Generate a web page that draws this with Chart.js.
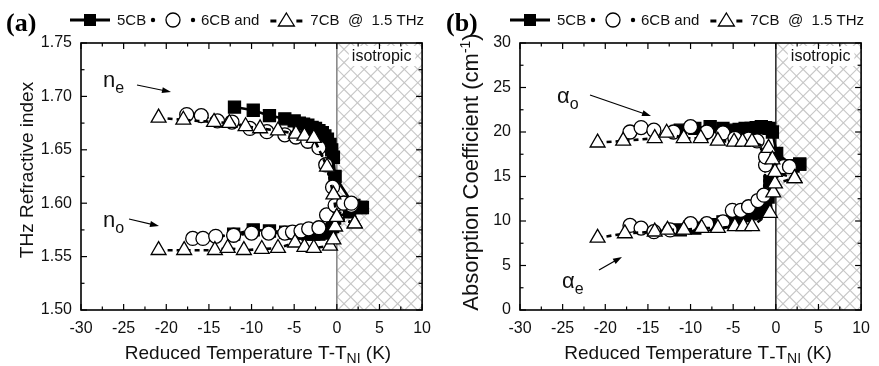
<!DOCTYPE html>
<html>
<head>
<meta charset="utf-8">
<title>5CB, 6CB and 7CB at 1.5 THz</title>
<script src="https://cdn.jsdelivr.net/npm/chart.js@4.4.1/dist/chart.umd.min.js"></script>
<style>
  html, body { margin: 0; padding: 0; background: #fff; }
  #wrap { position: relative; width: 879px; height: 366px; overflow: hidden; }
  canvas { position: absolute; top: 0; }
  #panelA { left: 0; }
  #panelB { left: 440px; }
</style>
</head>
<body>
<div id="wrap">
  <canvas id="panelA" width="440" height="366"></canvas>
  <canvas id="panelB" width="439" height="366"></canvas>
</div>
<script>
// ---------- axis ticks ----------
const tempTicks  = [-30, -25, -20, -15, -10, -5, 0, 5, 10];
const indexTicks = [1.50, 1.55, 1.60, 1.65, 1.70, 1.75];
const alphaTicks = [0, 5, 10, 15, 20, 25, 30];

// ---------- (a) refractive index vs reduced temperature ----------
// 5CB
const t5_ne = [-12.0, -9.8, -7.9, -6.1, -5.0, -4.4, -3.9, -3.4, -2.9, -2.5, -2.1, -1.7, -1.4, -1.1, -0.8, -0.6, -0.4, -0.2, 2.0, 3.0];
const n5_ne = [1.690, 1.687, 1.682, 1.679, 1.677, 1.675, 1.674, 1.673, 1.671, 1.670, 1.668, 1.666, 1.663, 1.660, 1.655, 1.650, 1.643, 1.625, 1.598, 1.596];
const t5_no = [-12.1, -9.8, -7.9, -6.0, -5.0, -4.2, -3.4, -2.7, -2.1, -1.6, -1.2, -0.8, -0.5, -0.25, 1.5, 2.8];
const n5_no = [1.571, 1.575, 1.574, 1.573, 1.572, 1.572, 1.571, 1.571, 1.571, 1.572, 1.573, 1.575, 1.578, 1.586, 1.592, 1.596];
// 6CB
const t6_ne = [-17.6, -15.9, -14.0, -12.3, -10.2, -8.2, -6.1, -4.8, -3.4, -2.1, -1.3, -0.5, 0.8, 1.7];
const n6_ne = [1.683, 1.682, 1.677, 1.676, 1.670, 1.667, 1.664, 1.662, 1.658, 1.652, 1.636, 1.615, 1.600, 1.600];
const t6_no = [-16.9, -15.7, -14.2, -12.1, -10.0, -8.0, -6.1, -5.2, -4.2, -3.3, -2.1, -1.2, -0.2, 0.8, 1.7];
const n6_no = [1.567, 1.567, 1.569, 1.570, 1.572, 1.572, 1.572, 1.573, 1.574, 1.576, 1.577, 1.589, 1.598, 1.600, 1.598];
// 7CB
const t7_ne = [-20.9, -18.0, -14.4, -12.6, -10.7, -9.0, -6.9, -4.8, -3.8, -2.7, -1.15, -0.4, 0.0, 2.1];
const n7_ne = [1.680, 1.678, 1.676, 1.675, 1.672, 1.670, 1.668, 1.665, 1.663, 1.661, 1.634, 1.608, 1.587, 1.581];
const t7_no = [-20.9, -17.9, -14.3, -12.8, -10.9, -8.8, -6.9, -4.9, -3.8, -2.7, -0.8, -0.4, -0.2, 0.0, 2.1];
const n7_no = [1.556, 1.556, 1.556, 1.558, 1.556, 1.557, 1.558, 1.563, 1.559, 1.558, 1.560, 1.566, 1.578, 1.587, 1.581];

// ---------- (b) absorption coefficient (cm^-1) vs reduced temperature ----------
// 5CB
const t5_ao = [-11.2, -9.5, -7.7, -6.2, -5.0, -4.3, -3.6, -2.9, -2.3, -1.7, -1.2, -0.8, -0.4, 0.1, 2.0, 2.8];
const a5_o  = [20.2, 20.4, 20.6, 20.4, 20.2, 20.3, 20.4, 20.4, 20.5, 20.6, 20.5, 20.4, 20.0, 17.6, 16.2, 16.4];
const t5_ae = [-11.2, -9.5, -7.7, -6.2, -5.0, -4.3, -3.6, -2.9, -2.3, -1.7, -1.2, -0.9, -0.7, 2.0, 2.8];
const a5_e  = [9.0, 9.2, 9.6, 9.9, 10.2, 10.4, 10.6, 10.8, 10.9, 11.1, 11.4, 12.7, 14.4, 16.2, 16.4];
// 6CB
const t6_ao = [-17.1, -15.8, -14.3, -12.0, -10.0, -8.1, -6.2, -4.8, -3.2, -2.2, -1.2, 0.9, 1.6];
const a6_o  = [20.0, 20.5, 20.2, 20.0, 20.6, 20.0, 19.9, 19.3, 19.2, 19.0, 17.2, 16.1, 16.1];
const t6_ae = [-17.1, -15.8, -14.3, -12.4, -10.0, -8.1, -6.2, -5.1, -4.1, -3.2, -2.1, -1.4, -1.2, 0.9, 1.6];
const a6_e  = [9.5, 9.2, 8.8, 9.0, 9.7, 9.7, 9.9, 11.2, 11.2, 11.6, 12.3, 12.9, 16.3, 16.1, 16.1];
// 7CB
const t7_ao = [-20.9, -17.9, -14.2, -12.8, -10.8, -8.8, -6.8, -4.9, -3.9, -2.8, -0.85, -0.4, -0.1, 2.2];
const a7_o  = [18.8, 19.0, 19.3, 19.9, 19.3, 19.3, 19.0, 18.9, 18.9, 18.9, 18.2, 16.9, 15.5, 14.8];
const t7_ae = [-20.9, -17.7, -14.2, -12.7, -10.8, -8.7, -6.8, -4.8, -3.8, -2.8, -0.7, -0.3, -0.1, 2.2];
const a7_e  = [8.1, 8.6, 8.8, 9.0, 9.0, 9.2, 9.2, 9.4, 9.4, 9.4, 10.9, 13.2, 14.2, 14.8];

// ---------- styling ----------
const SANS  = '"Liberation Sans", Arial, Helvetica, sans-serif';
const SERIF = '"Liberation Serif", "Times New Roman", serif';
const INK = '#111';

const STYLE = {
  '5CB': { point: 'rect',     radius: 8.5, fill: '#000', dash: [],     cap: 'butt',  width: 2.6, order: 3 },
  '6CB': { point: 'circle',   radius: 7.0, fill: '#fff', dash: [1, 4], cap: 'round', width: 3.0, order: 2 },
  '7CB': { point: 'triangle', radius: 8.6, fill: '#fff', dash: [5, 4], cap: 'butt',  width: 2.6, order: 1 },
};

function series(kind, xs, ys) {
  const s = STYLE[kind];
  return {
    label: kind,
    data: xs.map((x, i) => ({ x: x, y: ys[i] })),
    showLine: true,
    tension: 0,
    borderColor: '#000',
    borderWidth: s.width,
    borderDash: s.dash,
    borderCapStyle: s.cap,
    pointStyle: s.point,
    pointRadius: s.radius,
    pointHoverRadius: s.radius,
    pointBackgroundColor: s.fill,
    pointBorderColor: '#000',
    pointBorderWidth: 1.3,
    order: s.order,
  };
}

function seg(ctx, x1, y1, x2, y2) {
  ctx.beginPath(); ctx.moveTo(x1, y1); ctx.lineTo(x2, y2); ctx.stroke();
}

// text made of pieces: [string, fontSize, baselineShift]
function runWidth(ctx, pieces) {
  let w = 0;
  pieces.forEach(p => { ctx.font = p[1] + 'px ' + SANS; w += ctx.measureText(p[0]).width; });
  return w;
}
function drawRun(ctx, pieces, x, y) {
  pieces.forEach(p => {
    ctx.font = p[1] + 'px ' + SANS;
    ctx.fillText(p[0], x, y + p[2]);
    x += ctx.measureText(p[0]).width;
  });
}

function arrow(ctx, x1, y1, x2, y2) {
  const ang = Math.atan2(y2 - y1, x2 - x1), L = 9, H = 3;
  ctx.lineWidth = 1.2;
  seg(ctx, x1, y1, x2 - Math.cos(ang) * L * 0.7, y2 - Math.sin(ang) * L * 0.7);
  ctx.beginPath();
  ctx.moveTo(x2, y2);
  ctx.lineTo(x2 - L * Math.cos(ang) + H * Math.sin(ang), y2 - L * Math.sin(ang) - H * Math.cos(ang));
  ctx.lineTo(x2 - L * Math.cos(ang) - H * Math.sin(ang), y2 - L * Math.sin(ang) + H * Math.cos(ang));
  ctx.closePath(); ctx.fill();
}

function hatchIsotropic(chart, edge) {
  const { ctx, chartArea: a, scales } = chart;
  const x0 = scales.x.getPixelForValue(0);
  const w = a.right - x0, h = a.bottom - a.top;
  ctx.save();
  ctx.beginPath(); ctx.rect(x0, a.top, w, h); ctx.clip();
  ctx.strokeStyle = '#c6c6c6'; ctx.lineWidth = 1.1;
  const step = 13.4;
  for (let k = -h; k < w + h; k += step) {
    seg(ctx, x0 + k, a.bottom, x0 + k + h, a.top);
    seg(ctx, x0 + k, a.top, x0 + k + h, a.bottom);
  }
  ctx.restore();
  ctx.save();
  ctx.strokeStyle = edge; ctx.lineWidth = 1.6;
  seg(ctx, x0, a.top, x0, a.bottom);
  ctx.restore();
}

function isoLabel(chart) {
  const { ctx, chartArea: a, scales } = chart;
  const x0 = scales.x.getPixelForValue(0);
  ctx.save();
  ctx.font = '16px ' + SANS;
  const w = ctx.measureText('isotropic').width;
  ctx.fillStyle = '#fff';
  ctx.fillRect(x0 + 12, a.top + 3, w + 7, 20);
  ctx.fillStyle = INK;
  ctx.textBaseline = 'alphabetic';
  ctx.fillText('isotropic', x0 + 15, a.top + 18);
  ctx.restore();
}

function frame(chart, yTicks) {
  const { ctx, chartArea: a, scales } = chart;
  const sx = scales.x, sy = scales.y;
  const MAJ = 6, MIN = 3.5;
  ctx.save();
  ctx.strokeStyle = '#000';
  ctx.lineWidth = 1.2;
  tempTicks.forEach((v, i) => {
    const p = sx.getPixelForValue(v);
    seg(ctx, p, a.bottom, p, a.bottom - MAJ); seg(ctx, p, a.top, p, a.top + MAJ);
    if (i < tempTicks.length - 1) {
      const m = sx.getPixelForValue((v + tempTicks[i + 1]) / 2);
      seg(ctx, m, a.bottom, m, a.bottom - MIN); seg(ctx, m, a.top, m, a.top + MIN);
    }
  });
  yTicks.forEach((v, i) => {
    const p = sy.getPixelForValue(v);
    seg(ctx, a.left, p, a.left + MAJ, p); seg(ctx, a.right, p, a.right - MAJ, p);
    if (i < yTicks.length - 1) {
      const m = sy.getPixelForValue((v + yTicks[i + 1]) / 2);
      seg(ctx, a.left, m, a.left + MIN, m); seg(ctx, a.right, m, a.right - MIN, m);
    }
  });
  ctx.lineWidth = 1.6;
  ctx.strokeRect(a.left, a.top, a.right - a.left, a.bottom - a.top);
  ctx.restore();
}

function legend(ctx, tag) {
  ctx.save();
  ctx.fillStyle = '#000'; ctx.strokeStyle = '#000';
  ctx.textBaseline = 'alphabetic';
  ctx.font = 'bold 26px ' + SERIF;
  ctx.fillText(tag, 6, 31);
  const cy = 20;
  // 5CB: solid line, filled square
  ctx.lineWidth = 3;
  seg(ctx, 70, cy, 110, cy);
  ctx.fillRect(84, cy - 6, 12, 12);
  ctx.font = '15px ' + SANS;
  ctx.fillStyle = INK;
  ctx.fillText('5CB', 117, cy + 5);
  // 6CB: dotted line, open circle
  ctx.fillStyle = '#000';
  [153, 193].forEach(x => { ctx.beginPath(); ctx.arc(x, cy, 2.2, 0, Math.PI * 2); ctx.fill(); });
  ctx.lineWidth = 1.3;
  ctx.beginPath(); ctx.arc(173, cy, 7, 0, Math.PI * 2); ctx.stroke();
  ctx.fillStyle = INK;
  ctx.fillText('6CB and', 201, cy + 5);
  // 7CB: dashed line, open triangle
  const x7 = 201 + ctx.measureText('6CB and').width + 11;
  ctx.lineWidth = 3;
  seg(ctx, x7, cy + 1, x7 + 6, cy + 1);
  seg(ctx, x7 + 26, cy + 1, x7 + 32, cy + 1);
  ctx.lineWidth = 1.3;
  ctx.beginPath();
  ctx.moveTo(x7 + 16, cy - 7); ctx.lineTo(x7 + 24, cy + 6); ctx.lineTo(x7 + 8, cy + 6); ctx.closePath();
  ctx.stroke();
  ctx.fillText('7CB  @  1.5 THz', x7 + 40, cy + 5);
  ctx.restore();
}

function yTitle(ctx, pieces, cx, cy) {
  ctx.save();
  ctx.fillStyle = INK;
  ctx.textBaseline = 'alphabetic';
  ctx.translate(cx, cy);
  ctx.rotate(-Math.PI / 2);
  const w = runWidth(ctx, pieces);
  drawRun(ctx, pieces, -w / 2, 0);
  ctx.restore();
}

function xTitle(ctx, pieces, cx, base) {
  ctx.save();
  ctx.fillStyle = INK;
  ctx.textBaseline = 'alphabetic';
  const w = runWidth(ctx, pieces);
  drawRun(ctx, pieces, cx - w / 2, base);
  ctx.restore();
}

function subLabel(ctx, main, sub, x, y) {
  ctx.save();
  ctx.fillStyle = INK;
  ctx.textBaseline = 'alphabetic';
  drawRun(ctx, [[main, 22, 0], [sub, 16, 6]], x, y);
  ctx.restore();
}

function axisX() {
  return {
    type: 'linear', min: -30, max: 10,
    afterBuildTicks: s => { s.ticks = tempTicks.map(v => ({ value: v })); },
    afterFit: s => { s.height = 56; },
    ticks: { font: { family: SANS, size: 16 }, color: INK, padding: 9, autoSkip: false, maxRotation: 0,
             callback: v => String(v) },
    grid: { display: false, drawTicks: false },
    border: { display: false },
  };
}
function axisY(min, max, ticks, width, fmt) {
  return {
    type: 'linear', min: min, max: max,
    afterBuildTicks: s => { s.ticks = ticks.map(v => ({ value: v })); },
    afterFit: s => { s.width = width; },
    ticks: { font: { family: SANS, size: 16 }, color: INK, padding: 9, autoSkip: false, callback: fmt },
    grid: { display: false, drawTicks: false },
    border: { display: false },
  };
}

function baseOptions(yScale) {
  return {
    responsive: false, animation: false, devicePixelRatio: 1,
    layout: { padding: { top: 43, right: 11, left: 0, bottom: 0 } },
    plugins: { legend: { display: false }, tooltip: { enabled: false } },
    events: [],
    scales: { x: axisX(), y: yScale },
  };
}

// ---------- panel (a) ----------
new Chart(document.getElementById('panelA'), {
  type: 'scatter',
  data: { datasets: [
    series('7CB', t7_ne, n7_ne), series('7CB', t7_no, n7_no),
    series('6CB', t6_ne, n6_ne), series('6CB', t6_no, n6_no),
    series('5CB', t5_ne, n5_ne), series('5CB', t5_no, n5_no),
  ] },
  options: baseOptions(axisY(1.5, 1.75, indexTicks, 81, v => v.toFixed(2))),
  plugins: [{
    id: 'decorA',
    beforeDatasetsDraw(chart) { hatchIsotropic(chart, '#8a8a8a'); },
    afterDatasetsDraw(chart) { isoLabel(chart); frame(chart, indexTicks); },
    afterDraw(chart) {
      const ctx = chart.ctx;
      legend(ctx, '(a)');
      yTitle(ctx, [['THz Refractive index', 19, 0]], 33, 170);
      xTitle(ctx, [['Reduced Temperature T-T', 19, 0], ['NI', 14, 4], [' (K)', 19, 0]], 258, 359);
      subLabel(ctx, 'n', 'e', 103, 87);
      subLabel(ctx, 'n', 'o', 103, 227);
      ctx.fillStyle = '#000'; ctx.strokeStyle = '#000';
      arrow(ctx, 137, 85, 171, 92);
      arrow(ctx, 129, 219, 159, 226);
    },
  }],
});

// ---------- panel (b) ----------
new Chart(document.getElementById('panelB'), {
  type: 'scatter',
  data: { datasets: [
    series('7CB', t7_ao, a7_o), series('7CB', t7_ae, a7_e),
    series('6CB', t6_ao, a6_o), series('6CB', t6_ae, a6_e),
    series('5CB', t5_ao, a5_o), series('5CB', t5_ae, a5_e),
  ] },
  options: baseOptions(axisY(0, 30, alphaTicks, 80, v => String(v))),
  plugins: [{
    id: 'decorB',
    beforeDatasetsDraw(chart) { hatchIsotropic(chart, '#333'); },
    afterDatasetsDraw(chart) { isoLabel(chart); frame(chart, alphaTicks); },
    afterDraw(chart) {
      const ctx = chart.ctx;
      legend(ctx, '(b)');
      yTitle(ctx, [['Absorption Coefficient (cm', 22, 0], ['-1', 14, -8], [')', 22, 0]], 38, 172);
      xTitle(ctx, [['Reduced Temperature T', 19, 0], ['-', 19, 4], ['T', 19, 0], ['NI', 14, 4], [' (K)', 19, 0]], 258, 359);
      subLabel(ctx, '\u03B1', 'o', 117, 103);
      subLabel(ctx, '\u03B1', 'e', 122, 288);
      ctx.fillStyle = '#000'; ctx.strokeStyle = '#000';
      arrow(ctx, 150, 95, 211, 116);
      arrow(ctx, 159, 270, 182, 257);
    },
  }],
});
</script>
</body>
</html>
